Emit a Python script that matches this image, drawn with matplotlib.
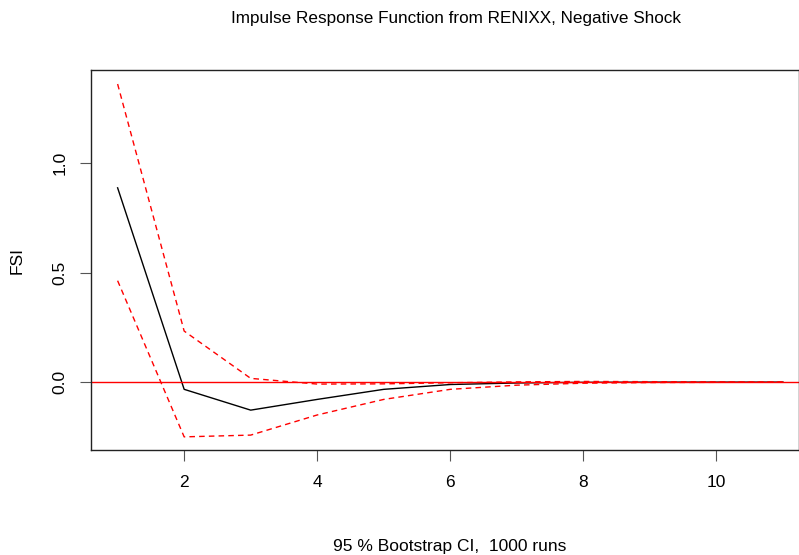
import numpy as np
import matplotlib.pyplot as plt

plt.rcParams['font.family'] = ['Liberation Sans', 'DejaVu Sans']

horizon = np.arange(1, 12)
irf = [0.887, -0.033, -0.128, -0.079, -0.033, -0.011, -0.004, -0.001, 0.0, 0.0, 0.0]
upper = [1.361, 0.233, 0.017, -0.009, -0.008, -0.003, 0.001, 0.003, 0.002, 0.001, 0.0]
lower = [0.463, -0.250, -0.242, -0.150, -0.079, -0.033, -0.014, -0.005, -0.002, -0.001, 0.0]

fig = plt.figure(figsize=(7.99, 5.55), dpi=100)
ax = fig.add_axes([91 / 799, 105 / 555, 708 / 799, 380 / 555])

ax.plot(horizon, irf, color="black", lw=1)
ax.plot(horizon, upper, color="red", lw=1, ls=(0, (4, 3)))
ax.plot(horizon, lower, color="red", lw=1, ls=(0, (4, 3)))
ax.axhline(0, color="red", lw=1)

ax.set_xlim(0.6, 11.24)
ax.set_ylim(-0.31, 1.425)
ax.set_xticks([2, 4, 6, 8, 10])
ax.set_yticks([0.0, 0.5, 1.0])
ax.set_yticklabels(["0.0", "0.5", "1.0"], rotation=90, va="center")
ax.tick_params(direction="out", length=7.7, labelsize=12.5, color="#555555")
ax.tick_params(axis="x", pad=10.5)
ax.tick_params(axis="y", pad=9)
for s in ax.spines.values():
    s.set_linewidth(1)
    s.set_color("#222222")

fig.text(17 / 799, 1 - 260 / 555, "FSI", rotation=90, ha="center", va="center", fontsize=12.5)
fig.text(450 / 799, 1 - 546 / 555, "95 % Bootstrap CI,  1000 runs",
         ha="center", va="center", fontsize=12.5)
fig.text(456 / 799, 1 - 18 / 555, "Impulse Response Function from RENIXX, Negative Shock",
         ha="center", va="center", fontsize=12.3)

fig.savefig("out.png", dpi=100)
